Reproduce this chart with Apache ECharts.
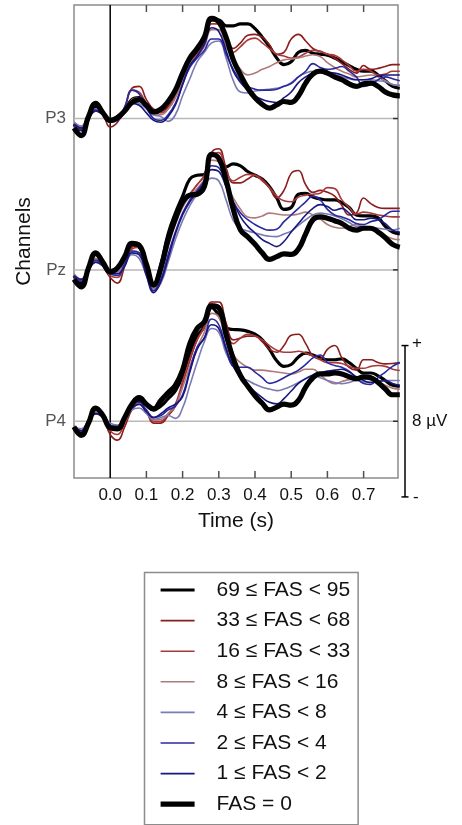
<!DOCTYPE html>
<html>
<head>
<meta charset="utf-8">
<script src="https://cdn.jsdelivr.net/npm/echarts@6/dist/echarts.min.js"></script>
<style>
  html, body { margin: 0; padding: 0; background: #ffffff; }
  #chart { width: 462px; height: 825px; }
</style>
</head>
<body>
<div id="chart"></div>
<script>
// Sample times (s)
const times = [-0.10, -0.08, -0.06, -0.04, -0.02, 0.00, 0.02, 0.04, 0.06, 0.08,
  0.10, 0.12, 0.14, 0.16, 0.18, 0.20, 0.22, 0.24, 0.26, 0.28,
  0.30, 0.32, 0.34, 0.36, 0.38, 0.40, 0.42, 0.44, 0.46, 0.48,
  0.50, 0.52, 0.54, 0.56, 0.58, 0.60, 0.62, 0.64, 0.66, 0.68,
  0.70, 0.72, 0.74, 0.76, 0.78, 0.80];

// Tick positions on the time axis (s)
const tickTimes = [0.1, 0.2, 0.3, 0.4, 0.5, 0.6, 0.7];

const channelNames = ['P3', 'Pz', 'P4'];
const channelOffsets = [16, 8, 0];   // µV offset of each channel's baseline

const groupNames = ['69 ≤ FAS < 95', '33 ≤ FAS < 68', '16 ≤ FAS < 33', '8 ≤ FAS < 16',
  '4 ≤ FAS < 8', '2 ≤ FAS < 4', '1 ≤ FAS < 2', 'FAS = 0'];

// Grand-average ERPs (µV), one row per FAS group, in legend order
const p3Values = [
  [-0.3, -0.6, 0.1, 0.6, 0.3, -0.1, 0.1, 0.4, 1.0, 1.1, 0.6, 0.3, 0.4, 0.8, 1.4, 2.3, 3.0, 3.5, 4.1, 5.2, 5.2, 4.9, 4.9, 5.0, 5.0, 4.75, 4.3, 3.8, 3.2, 2.85, 3.0, 3.5, 3.6, 3.45, 3.4, 3.35, 3.2, 3.0, 2.8, 2.6, 2.5, 2.5, 2.3, 2.0, 1.7, 1.6],
  [-0.3, -0.5, 0.0, 0.5, 0.2, -0.45, -0.2, 0.5, 1.6, 1.7, 1.0, 0.5, 0.4, 0.6, 1.2, 2.2, 3.2, 3.6, 4.0, 5.2, 5.1, 4.3, 3.7, 4.0, 4.4, 4.45, 4.3, 3.9, 3.4, 3.5, 4.2, 4.45, 4.1, 3.7, 3.55, 3.4, 3.2, 2.9, 2.6, 2.4, 2.8, 2.6, 2.65, 2.75, 2.85, 2.85],
  [-0.4, -0.5, 0.0, 0.4, 0.2, -0.2, 0.0, 0.6, 1.5, 1.4, 0.8, 0.4, 0.3, 0.5, 1.1, 2.0, 2.9, 3.4, 3.9, 5.0, 5.0, 4.2, 3.5, 3.8, 4.15, 4.25, 4.0, 3.7, 3.4, 3.3, 3.2, 3.25, 3.45, 3.6, 3.55, 3.4, 3.35, 3.1, 2.8, 2.5, 2.6, 2.5, 2.3, 2.35, 2.5, 2.5],
  [-0.2, -0.4, 0.1, 0.5, 0.3, -0.1, 0.0, 0.4, 1.0, 1.1, 0.6, 0.2, 0.2, 0.5, 1.1, 2.0, 2.9, 3.3, 3.8, 4.7, 4.7, 3.8, 3.2, 2.6, 2.3, 2.4, 2.6, 2.75, 2.95, 3.1, 3.15, 3.2, 3.3, 3.37, 3.28, 2.95, 2.7, 2.5, 2.35, 2.2, 2.25, 2.3, 2.2, 2.0, 1.8, 1.75],
  [-0.2, -0.4, 0.1, 0.5, 0.3, 0.0, 0.1, 0.4, 0.9, 0.8, 0.5, 0.2, 0.1, -0.15, 0.2, 1.2, 2.1, 3.0, 3.5, 4.0, 4.1, 3.2, 2.0, 1.4, 1.35, 1.45, 1.5, 1.55, 1.6, 1.7, 1.9, 2.2, 2.4, 2.5, 2.45, 2.35, 2.3, 2.2, 2.1, 2.05, 2.05, 2.05, 2.0, 1.95, 1.8, 1.75],
  [-0.4, -0.6, 0.0, 0.45, 0.2, -0.1, 0.0, 0.6, 1.5, 1.3, 0.6, 0.0, -0.1, 0.2, 0.8, 1.8, 2.7, 3.2, 3.6, 4.2, 4.2, 3.4, 2.6, 2.0, 1.7, 1.55, 1.5, 1.5, 1.55, 1.7, 1.85, 2.2, 2.5, 2.9, 2.7, 2.6, 2.65, 2.75, 2.5, 2.2, 1.7, 1.8, 2.05, 2.2, 2.1, 2.0],
  [-0.3, -0.5, 0.0, 0.4, 0.2, -0.2, -0.1, 0.3, 0.8, 0.7, 0.3, -0.1, -0.2, 0.1, 0.7, 1.8, 2.8, 3.3, 3.9, 4.8, 4.6, 3.6, 2.5, 1.9, 1.5, 1.2, 1.0, 0.9, 0.85, 1.1, 1.4, 1.9, 2.2, 2.4, 2.5, 2.45, 2.4, 2.3, 2.15, 2.05, 2.05, 2.1, 2.25, 2.3, 2.3, 2.3],
  [-0.5, -0.9, 0.1, 0.8, 0.3, -0.1, 0.05, 0.4, 0.85, 1.0, 0.7, 0.35, 0.5, 0.9, 1.5, 2.4, 3.2, 3.7, 4.3, 5.3, 5.1, 4.3, 3.1, 2.3, 1.6, 1.1, 0.75, 0.55, 0.72, 0.9, 0.85, 1.2, 1.87, 2.35, 2.5, 2.4, 2.2, 2.05, 1.83, 1.7, 1.83, 1.87, 1.7, 1.4, 1.25, 1.2]
];

const pzValues = [
  [-0.3, -0.7, 0.1, 0.8, 0.3, -0.1, 0.1, 0.6, 1.3, 1.2, 0.2, -0.8, 0.3, 1.9, 3.0, 3.9, 4.8, 5.0, 5.05, 6.1, 5.9, 5.45, 5.6, 5.5, 5.2, 5.0, 4.8, 4.4, 3.8, 3.2, 3.3, 4.0, 4.05, 3.85, 3.75, 3.7, 3.7, 3.55, 3.3, 2.9, 2.85, 2.85, 2.75, 2.3, 2.0, 1.9],
  [-0.4, -0.6, 0.0, 0.6, 0.2, -0.4, -0.7, 0.2, 1.2, 1.3, 0.2, -0.9, 0.0, 1.5, 2.6, 3.4, 4.0, 4.5, 5.0, 6.2, 6.4, 5.4, 4.6, 4.6, 4.8, 5.0, 4.8, 4.35, 3.8, 4.2, 5.1, 5.25, 4.5, 4.1, 4.2, 4.1, 3.9, 3.4, 2.9, 3.0, 3.8, 3.5, 3.3, 3.25, 3.25, 3.25],
  [-0.3, -0.5, 0.0, 0.5, 0.2, -0.3, -0.4, 0.3, 1.1, 1.2, 0.1, -1.0, 0.0, 1.5, 2.6, 3.4, 4.0, 4.5, 5.0, 6.0, 6.2, 5.2, 4.7, 4.9, 5.05, 5.0, 4.7, 4.35, 3.9, 3.65, 3.6, 3.85, 3.95, 4.0, 4.05, 4.35, 4.3, 3.7, 3.3, 2.95, 3.05, 3.0, 2.9, 2.85, 2.8, 2.8],
  [-0.2, -0.5, 0.1, 0.6, 0.3, -0.1, -0.2, 0.5, 1.0, 0.9, 0.0, -1.0, -0.2, 1.2, 2.4, 3.3, 3.9, 4.3, 4.8, 5.8, 5.7, 4.6, 3.8, 3.2, 2.8, 2.75, 2.85, 3.0, 2.95, 2.9, 2.9, 2.95, 3.05, 2.9, 2.7, 2.4, 2.25, 2.2, 2.3, 2.4, 2.25, 2.15, 2.0, 1.8, 1.65, 1.6],
  [-0.3, -0.5, 0.0, 0.4, 0.3, 0.0, -0.1, 0.3, 0.8, 0.6, -0.3, -1.1, -0.7, 0.4, 1.6, 2.6, 3.4, 4.0, 4.5, 4.85, 4.7, 3.7, 2.6, 2.2, 2.05, 1.95, 1.85, 1.78, 1.76, 1.9, 2.05, 2.35, 2.65, 2.9, 3.0, 2.95, 2.85, 2.7, 2.5, 2.3, 2.3, 2.25, 2.2, 2.15, 2.1, 2.2],
  [-0.4, -0.6, 0.0, 0.5, 0.3, -0.2, -0.3, 0.3, 1.0, 0.9, -0.2, -1.1, -0.5, 0.8, 2.0, 3.0, 3.7, 4.2, 4.7, 5.5, 5.4, 4.5, 3.6, 3.0, 2.65, 2.4, 2.2, 2.1, 2.15, 2.55, 2.9, 3.25, 3.6, 3.9, 3.7, 3.2, 2.9, 2.8, 2.65, 2.45, 2.4, 2.55, 2.65, 2.9, 3.1, 3.1],
  [-0.3, -0.5, 0.0, 0.4, 0.2, -0.2, -0.2, 0.2, 0.9, 0.8, -0.3, -1.2, -0.6, 0.6, 1.9, 2.9, 3.6, 4.1, 4.6, 5.3, 5.2, 4.4, 3.6, 2.8, 2.3, 1.95, 1.6, 1.4, 1.23, 1.5, 2.0, 2.45, 2.9, 3.25, 3.45, 3.35, 3.15, 3.25, 3.0, 2.65, 2.65, 2.73, 2.65, 2.45, 2.1, 2.0],
  [-0.5, -0.9, 0.1, 0.9, 0.4, -0.1, 0.1, 0.7, 1.4, 1.3, 0.3, -0.8, 0.1, 1.6, 2.7, 3.6, 3.95, 4.0, 4.4, 6.1, 5.9, 4.75, 3.2, 2.1, 1.75, 1.35, 0.9, 0.55, 0.7, 0.85, 0.82, 1.1, 1.9, 2.65, 2.8, 2.73, 2.6, 2.45, 2.2, 2.1, 2.2, 2.2, 2.0, 1.7, 1.35, 1.2]
];

const p4Values = [
  [-0.3, -0.6, 0.0, 0.6, 0.3, -0.3, -0.3, 0.2, 0.8, 1.1, 0.9, 0.6, 0.8, 1.2, 1.6, 2.4, 3.6, 4.5, 5.0, 6.0, 5.6, 4.95, 4.85, 4.83, 4.75, 4.6, 4.3, 3.8, 3.2, 2.9, 3.0, 3.4, 3.6, 3.5, 3.35, 3.25, 3.25, 3.3, 3.1, 2.8, 2.55, 2.55, 2.4, 2.15, 1.9, 1.85],
  [-0.3, -0.5, 0.0, 0.5, 0.2, -0.7, -1.0, -0.3, 0.6, 0.9, 0.5, -0.1, -0.1, 0.3, 0.8, 2.0, 3.2, 4.3, 5.0, 6.3, 6.3, 5.2, 4.3, 4.4, 4.5, 4.5, 4.2, 3.8, 3.65, 4.0, 4.55, 4.6, 4.1, 3.45, 3.3, 3.8, 4.0, 3.35, 2.85, 2.7, 3.25, 3.25, 3.1, 3.03, 3.05, 3.1],
  [-0.3, -0.5, 0.0, 0.5, 0.2, -0.5, -0.7, -0.1, 0.7, 0.9, 0.5, 0.0, 0.0, 0.4, 0.9, 2.1, 3.3, 4.3, 5.0, 6.2, 6.1, 4.9, 4.1, 4.4, 4.6, 4.5, 4.3, 4.0, 3.75, 3.65, 3.65, 3.7, 3.6, 3.45, 3.25, 3.1, 3.1, 3.05, 2.9, 2.8, 2.8, 2.9, 2.95, 2.9, 2.75, 2.68],
  [-0.2, -0.5, 0.0, 0.5, 0.3, -0.3, -0.4, 0.0, 0.7, 0.9, 0.5, 0.1, 0.1, 0.4, 0.8, 1.8, 2.9, 3.9, 4.7, 5.7, 5.5, 4.3, 3.5, 3.1, 2.85, 2.7, 2.7, 2.65, 2.6, 2.55, 2.5, 2.6, 2.75, 2.75, 2.45, 2.15, 1.98, 2.1, 2.2, 2.24, 2.24, 2.2, 2.08, 1.9, 1.75, 1.7],
  [-0.3, -0.4, 0.0, 0.4, 0.3, -0.1, -0.2, 0.1, 0.6, 0.7, 0.4, 0.1, 0.2, 0.3, 0.15, 0.7, 1.9, 3.1, 4.2, 4.9, 4.7, 3.6, 2.9, 2.33, 2.15, 1.95, 1.8, 1.7, 1.62, 1.7, 1.85, 2.05, 2.25, 2.4, 2.3, 2.15, 2.05, 1.98, 2.05, 2.15, 2.08, 2.06, 2.12, 2.15, 2.15, 2.15],
  [-0.4, -0.5, 0.0, 0.4, 0.3, -0.2, -0.3, 0.1, 0.8, 1.0, 0.6, 0.2, 0.3, 0.6, 0.8, 1.4, 2.7, 3.9, 4.4, 5.4, 5.1, 3.9, 2.9, 2.85, 2.85, 2.6, 2.3, 2.0, 2.1, 2.3, 2.5, 2.7, 3.0, 3.35, 3.5, 3.1, 2.95, 2.85, 2.65, 2.3, 2.0, 1.95, 2.3, 2.6, 2.9, 3.1],
  [-0.3, -0.5, 0.0, 0.4, 0.2, -0.3, -0.3, 0.1, 0.7, 0.9, 0.5, 0.2, 0.4, 0.7, 0.9, 1.3, 2.6, 3.8, 4.4, 5.1, 4.9, 3.8, 2.9, 2.3, 1.9, 1.55, 1.25, 1.0, 0.92, 1.2, 1.6, 2.0, 2.25, 2.45, 2.55, 2.65, 2.7, 2.75, 2.6, 2.35, 2.15, 2.05, 2.1, 2.15, 2.0, 1.9],
  [-0.3, -0.75, -0.1, 0.7, 0.3, -0.35, -0.4, 0.2, 0.9, 1.25, 0.9, 0.65, 1.1, 1.5, 1.9, 2.7, 4.1, 4.9, 5.25, 6.1, 6.0, 4.6, 3.3, 2.4, 1.85, 1.35, 0.95, 0.6, 0.75, 0.9, 0.85, 1.1, 1.8, 2.3, 2.5, 2.5, 2.55, 2.5, 2.35, 2.25, 2.35, 2.3, 2.05, 1.7, 1.4, 1.4]
];

const timeRange = [-0.1, 0.795];
const voltRange = [-3, 22];
const stimulusOnset = [0];
const scaleBar = [-4, 4];          // µV span of the calibration bar
const scaleBarLabel = '8 µV';

// Styling
const groupColors = ['#000000', '#8c1d1d', '#a8393b', '#b07a7a', '#7a7ab4', '#2a2a9e', '#17177f', '#000000'];
const groupWidths = [3.2, 1.6, 1.6, 1.6, 1.6, 1.6, 1.6, 5.2];
const FONT = '"Liberation Sans", Arial, Helvetica, sans-serif';
const FRAME = '#8c8c8c';
const TICK = '#505050';

const channelValues = [p3Values, pzValues, p4Values];

const series = [];

// Channel baselines
series.push({
  type: 'custom',
  name: 'baselines',
  silent: true,
  z: 1,
  data: channelOffsets.map(v => [timeRange[0], v]),
  renderItem: function (params, api) {
    const y = api.value(1);
    const a = api.coord([timeRange[0], y]);
    const b = api.coord([timeRange[1], y]);
    return {
      type: 'line',
      shape: { x1: a[0], y1: a[1], x2: b[0], y2: b[1] },
      style: { stroke: '#b9b9b9', lineWidth: 1.5 }
    };
  }
});

// Stimulus onset marker
series.push({
  type: 'custom',
  name: 'onset',
  silent: true,
  z: 1,
  data: stimulusOnset.map(t => [t, voltRange[0]]),
  renderItem: function (params, api) {
    const t = api.value(0);
    const a = api.coord([t, voltRange[0]]);
    const b = api.coord([t, voltRange[1]]);
    return {
      type: 'line',
      shape: { x1: a[0], y1: a[1], x2: b[0], y2: b[1] },
      style: { stroke: '#000000', lineWidth: 1.5 }
    };
  }
});

// Ticks along the top and bottom frame edges, pointing inwards
series.push({
  type: 'custom',
  name: 'frameTicks',
  silent: true,
  z: 5,
  data: tickTimes.map(t => [t, voltRange[0]]),
  renderItem: function (params, api) {
    const t = api.value(0);
    const b = api.coord([t, voltRange[0]]);
    const a = api.coord([t, voltRange[1]]);
    return {
      type: 'group',
      children: [
        { type: 'line', shape: { x1: b[0], y1: b[1], x2: b[0], y2: b[1] - 7 }, style: { stroke: TICK, lineWidth: 1.5 } },
        { type: 'line', shape: { x1: a[0], y1: a[1], x2: a[0], y2: a[1] + 7 }, style: { stroke: TICK, lineWidth: 1.5 } }
      ]
    };
  }
});

// Small baseline ticks on the right frame edge
series.push({
  type: 'custom',
  name: 'channelTicks',
  silent: true,
  z: 5,
  data: channelOffsets.map(v => [timeRange[1], v]),
  renderItem: function (params, api) {
    const p = api.coord([timeRange[1], api.value(1)]);
    return {
      type: 'line',
      shape: { x1: p[0] - 5, y1: p[1], x2: p[0], y2: p[1] },
      style: { stroke: '#333333', lineWidth: 1.5 }
    };
  }
});

// ERP traces
channelValues.forEach((rows, c) => {
  rows.forEach((vals, g) => {
    series.push({
      type: 'line',
      name: groupNames[g],
      data: times.map((t, i) => [t, vals[i] + channelOffsets[c]]),
      symbol: 'none',
      smooth: 0.45,
      clip: true,
      z: 2 + g,
      lineStyle: { color: groupColors[g], width: groupWidths[g] },
      itemStyle: { color: groupColors[g] },
      emphasis: { disabled: true },
      silent: true
    });
  });
});

// Calibration bar beside the plot
series.push({
  type: 'custom',
  name: 'scale',
  silent: true,
  clip: false,
  z: 10,
  data: [[timeRange[1], scaleBar[0], scaleBar[1]]],
  renderItem: function (params, api) {
    const lo = api.coord([timeRange[1], api.value(1)]);
    const hi = api.coord([timeRange[1], api.value(2)]);
    const mid = api.coord([timeRange[1], (api.value(1) + api.value(2)) / 2]);
    const x = lo[0] + 7;
    return {
      type: 'group',
      children: [
        { type: 'line', shape: { x1: x, y1: hi[1], x2: x, y2: lo[1] }, style: { stroke: '#000000', lineWidth: 1.5 } },
        { type: 'line', shape: { x1: x - 3.5, y1: hi[1], x2: x + 3.5, y2: hi[1] }, style: { stroke: '#000000', lineWidth: 1.5 } },
        { type: 'line', shape: { x1: x - 3.5, y1: lo[1], x2: x + 3.5, y2: lo[1] }, style: { stroke: '#000000', lineWidth: 1.5 } },
        { type: 'text', style: { text: '+', x: x + 7, y: hi[1] - 2, fill: '#111', font: '17px ' + FONT, textAlign: 'left', textVerticalAlign: 'middle' } },
        { type: 'text', style: { text: '-', x: x + 8, y: lo[1], fill: '#111', font: '17px ' + FONT, textAlign: 'left', textVerticalAlign: 'middle' } },
        { type: 'text', style: { text: scaleBarLabel, x: x + 7, y: mid[1], fill: '#111', font: '17px ' + FONT, textAlign: 'left', textVerticalAlign: 'middle' } }
      ]
    };
  }
});

const chart = echarts.init(document.getElementById('chart'), null, { renderer: 'canvas' });

chart.setOption({
  animation: false,
  backgroundColor: '#ffffff',
  textStyle: { fontFamily: FONT },
  grid: {
    left: 74, right: 64, top: 5, bottom: 347,
    show: true, borderColor: FRAME, borderWidth: 1.5
  },
  xAxis: {
    type: 'value', position: 'bottom',
    min: timeRange[0], max: timeRange[1], interval: 0.1,
    name: 'Time (s)', nameLocation: 'middle', nameGap: 33,
    nameTextStyle: { fontSize: 21, color: '#111', fontFamily: FONT },
    axisLine: { show: false, onZero: false },
    axisTick: { show: false },
    axisLabel: {
      margin: 9, fontSize: 17, color: '#111', fontFamily: FONT,
      formatter: v => (v < -0.05 || v > 0.75) ? '' : v.toFixed(1)
    },
    splitLine: { show: false }
  },
  yAxis: {
    type: 'value', position: 'left',
    min: voltRange[0], max: voltRange[1],
    name: 'Channels', nameLocation: 'middle', nameGap: 38.5, nameRotate: 90,
    nameTextStyle: { fontSize: 21, color: '#111', fontFamily: FONT },
    axisLine: { show: false, onZero: false },
    axisTick: { show: false },
    splitLine: { show: false },
    axisLabel: {
      customValues: channelOffsets,
      formatter: v => channelNames[channelOffsets.indexOf(v)] || '',
      margin: 8, fontSize: 17, color: '#555', fontFamily: FONT
    }
  },
  legend: {
    data: groupNames.map((n, g) => ({ name: n, lineStyle: { width: groupWidths[g] } })),
    orient: 'vertical',
    left: 144.5, top: 572.5,
    padding: [7, 8, 10, 13.5],
    itemWidth: 34, itemHeight: 14, itemGap: 9.6,
    borderColor: FRAME, borderWidth: 1.5,
    selectedMode: false,
    itemStyle: { opacity: 0 },
    lineStyle: { width: 'inherit' },
    textStyle: { fontSize: 21, lineHeight: 21, color: '#111', fontFamily: FONT, padding: [0, 0, 0, 17] }
  },
  series: series
});
</script>
</body>
</html>
